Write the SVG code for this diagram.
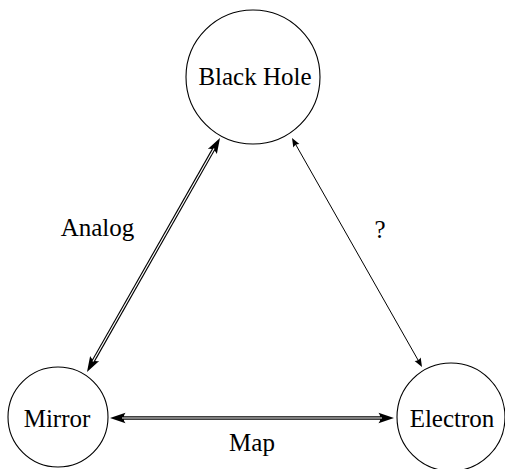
<svg xmlns="http://www.w3.org/2000/svg" width="505" height="469" viewBox="0 0 505 469">
<style>
.node{fill:#fff;stroke:#000;stroke-width:1.1}
.lbl{font-family:"Liberation Serif","DejaVu Serif",serif;font-size:25px;fill:#000;text-anchor:middle}
.dblo{fill:none;stroke:#000;stroke-width:3.4}
.dbli{fill:none;stroke:#fff;stroke-width:1.2}
.thin{fill:none;stroke:#000;stroke-width:1}
</style>
<defs>
<marker id="big" markerUnits="userSpaceOnUse" viewBox="-5 -7 19 14" markerWidth="19" markerHeight="14" refX="0" refY="0" orient="auto-start-reverse" overflow="visible">
<path d="M12,0 L-3.5,-5.2 Q0.5,0 -3.5,5.2 Z" fill="#000"/>
</marker>
<marker id="sm" markerUnits="userSpaceOnUse" viewBox="-3 -5 12 10" markerWidth="12" markerHeight="10" refX="0" refY="0" orient="auto-start-reverse" overflow="visible">
<path d="M7,0 L-1.8,-3.5 Q0.3,0 -1.8,3.5 Z" fill="#000"/>
</marker>
</defs>
<g id="connectors">
<g id="analog">
<path class="dblo" d="M92.93,361.57 L214.07,148.43" marker-start="url(#big)" marker-end="url(#big)"/>
<path class="dbli" d="M92.93,361.57 L214.07,148.43"/>
</g>
<g id="question">
<path class="thin" d="M295.46,144.09 L418.54,360.91" marker-start="url(#sm)" marker-end="url(#sm)"/>
</g>
<g id="map">
<path class="dblo" d="M122,418 L382,418" marker-start="url(#big)" marker-end="url(#big)"/>
<path class="dbli" d="M122,418 L382,418"/>
</g>
<text class="lbl" x="97.5" y="236">Analog</text>
<text class="lbl" x="380" y="238">?</text>
<text class="lbl" x="252" y="451">Map</text>
</g>
<g id="blackhole">
<circle class="node" cx="253" cy="77" r="67"/>
<text class="lbl" x="255" y="85">Black Hole</text>
</g>
<g id="mirror">
<circle class="node" cx="58" cy="417" r="50"/>
<text class="lbl" x="57" y="427">Mirror</text>
</g>
<g id="electron">
<circle class="node" cx="451" cy="417" r="54"/>
<text class="lbl" x="452" y="427">Electron</text>
</g>
</svg>
